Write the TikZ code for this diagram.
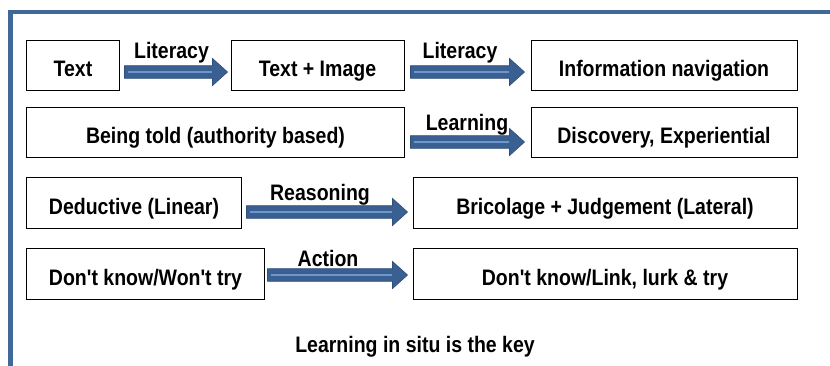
\documentclass[tikz,border=0pt]{standalone}
\usepackage{fontspec}
\setmainfont{Liberation Sans}[Ligatures=TeXOff]
\usetikzlibrary{calc}
\definecolor{framecol}{RGB}{64,104,152}
\definecolor{arrowfill}{RGB}{58,96,145}
\definecolor{arrowedge}{RGB}{48,80,124}
\definecolor{stripecol}{RGB}{110,150,205}
\newcommand\sq[1]{\scalebox{0.87}[1]{#1}}
\newcommand\blockarrow[2]{%
  \path let \p1=#1, \p2=#2 in
    [fill=arrowfill, draw=arrowedge, line width=0.7bp, line join=miter]
    (\x1,\y1+6.3bp) -- (\x2-15bp,\y1+6.3bp) -- (\x2-15bp,\y1+13.5bp) -- (\x2,\y1)
    -- (\x2-15bp,\y1-13.5bp) -- (\x2-15bp,\y1-6.3bp) -- (\x1,\y1-6.3bp) -- cycle;
  \path let \p1=#1, \p2=#2 in
    [draw=stripecol, line width=1.6bp] (\x1+3bp,\y1) -- (\x2-16bp,\y1);
}
\begin{document}
\begin{tikzpicture}[x=1bp,y=-1bp,
  every node/.style={font=\fontsize{22.5}{27}\selectfont\bfseries, inner sep=0pt},
  box/.style={draw=black, line width=1bp, fill=white, minimum height=50bp,
    text height=22bp, text depth=0bp},
  lbl/.style={anchor=base}]
\useasboundingbox (0,0) rectangle (830,365);
% frame
\draw[framecol, line width=4.7bp, line join=miter] (10.3,370) -- (10.3,12) -- (832,12);
% row 1
\node[box, minimum width=92bp]  (t1) at (73,65)    {\sq{Text}};
\node[box, minimum width=173bp] (t2) at (317.5,65) {\sq{Text + Image}};
\node[box, minimum width=266bp] (t3) at (664,65)   {\sq{Information navigation}};
% row 2
\node[box, minimum width=377bp] (b1) at (215.5,132) {\sq{Being told (authority based)}};
\node[box, minimum width=266bp] (b2) at (664,132)   {\sq{Discovery, Experiential}};
% row 3
\node[box, minimum width=214bp, minimum height=51bp] (c1) at (134,203) {\sq{Deductive (Linear)}};
\node[box, minimum width=384bp, minimum height=51bp] (c2) at (605,203) {\sq{Bricolage + Judgement (Lateral)}};
% row 4
\node[box, minimum width=237bp, minimum height=51bp] (d1) at (145.5,274) {\sq{Don't know/Won't try}};
\node[box, minimum width=384bp, minimum height=51bp] (d2) at (605,274)   {\sq{Don't know/Link, lurk \& try}};
% arrows
\blockarrow{($(t1.east)+(5,7)$)}{($(t2.west)+(-3,7)$)}
\blockarrow{($(t2.east)+(6,7)$)}{($(t3.west)+(-6,7)$)}
\blockarrow{($(b1.east)+(6,10)$)}{($(b2.west)+(-6,10)$)}
\blockarrow{($(c1.east)+(5,9)$)}{($(c2.west)+(-5,9)$)}
\blockarrow{($(d1.east)+(3,1)$)}{($(d2.west)+(-5,1)$)}
% labels
\node[lbl] (l1) at (171.5,58) {\sq{Literacy}};
\node[lbl] (l2) at (460,58)   {\sq{Literacy}};
\node[lbl] (l3) at (467,130)  {\sq{Learning}};
\node[lbl] (l4) at (320,200)  {\sq{Reasoning}};
\node[lbl] (l5) at (328,266.5) {\sq{Action}};
\node[lbl] (key) at (415,352) {\sq{Learning in situ is the key}};
\end{tikzpicture}
\end{document}
